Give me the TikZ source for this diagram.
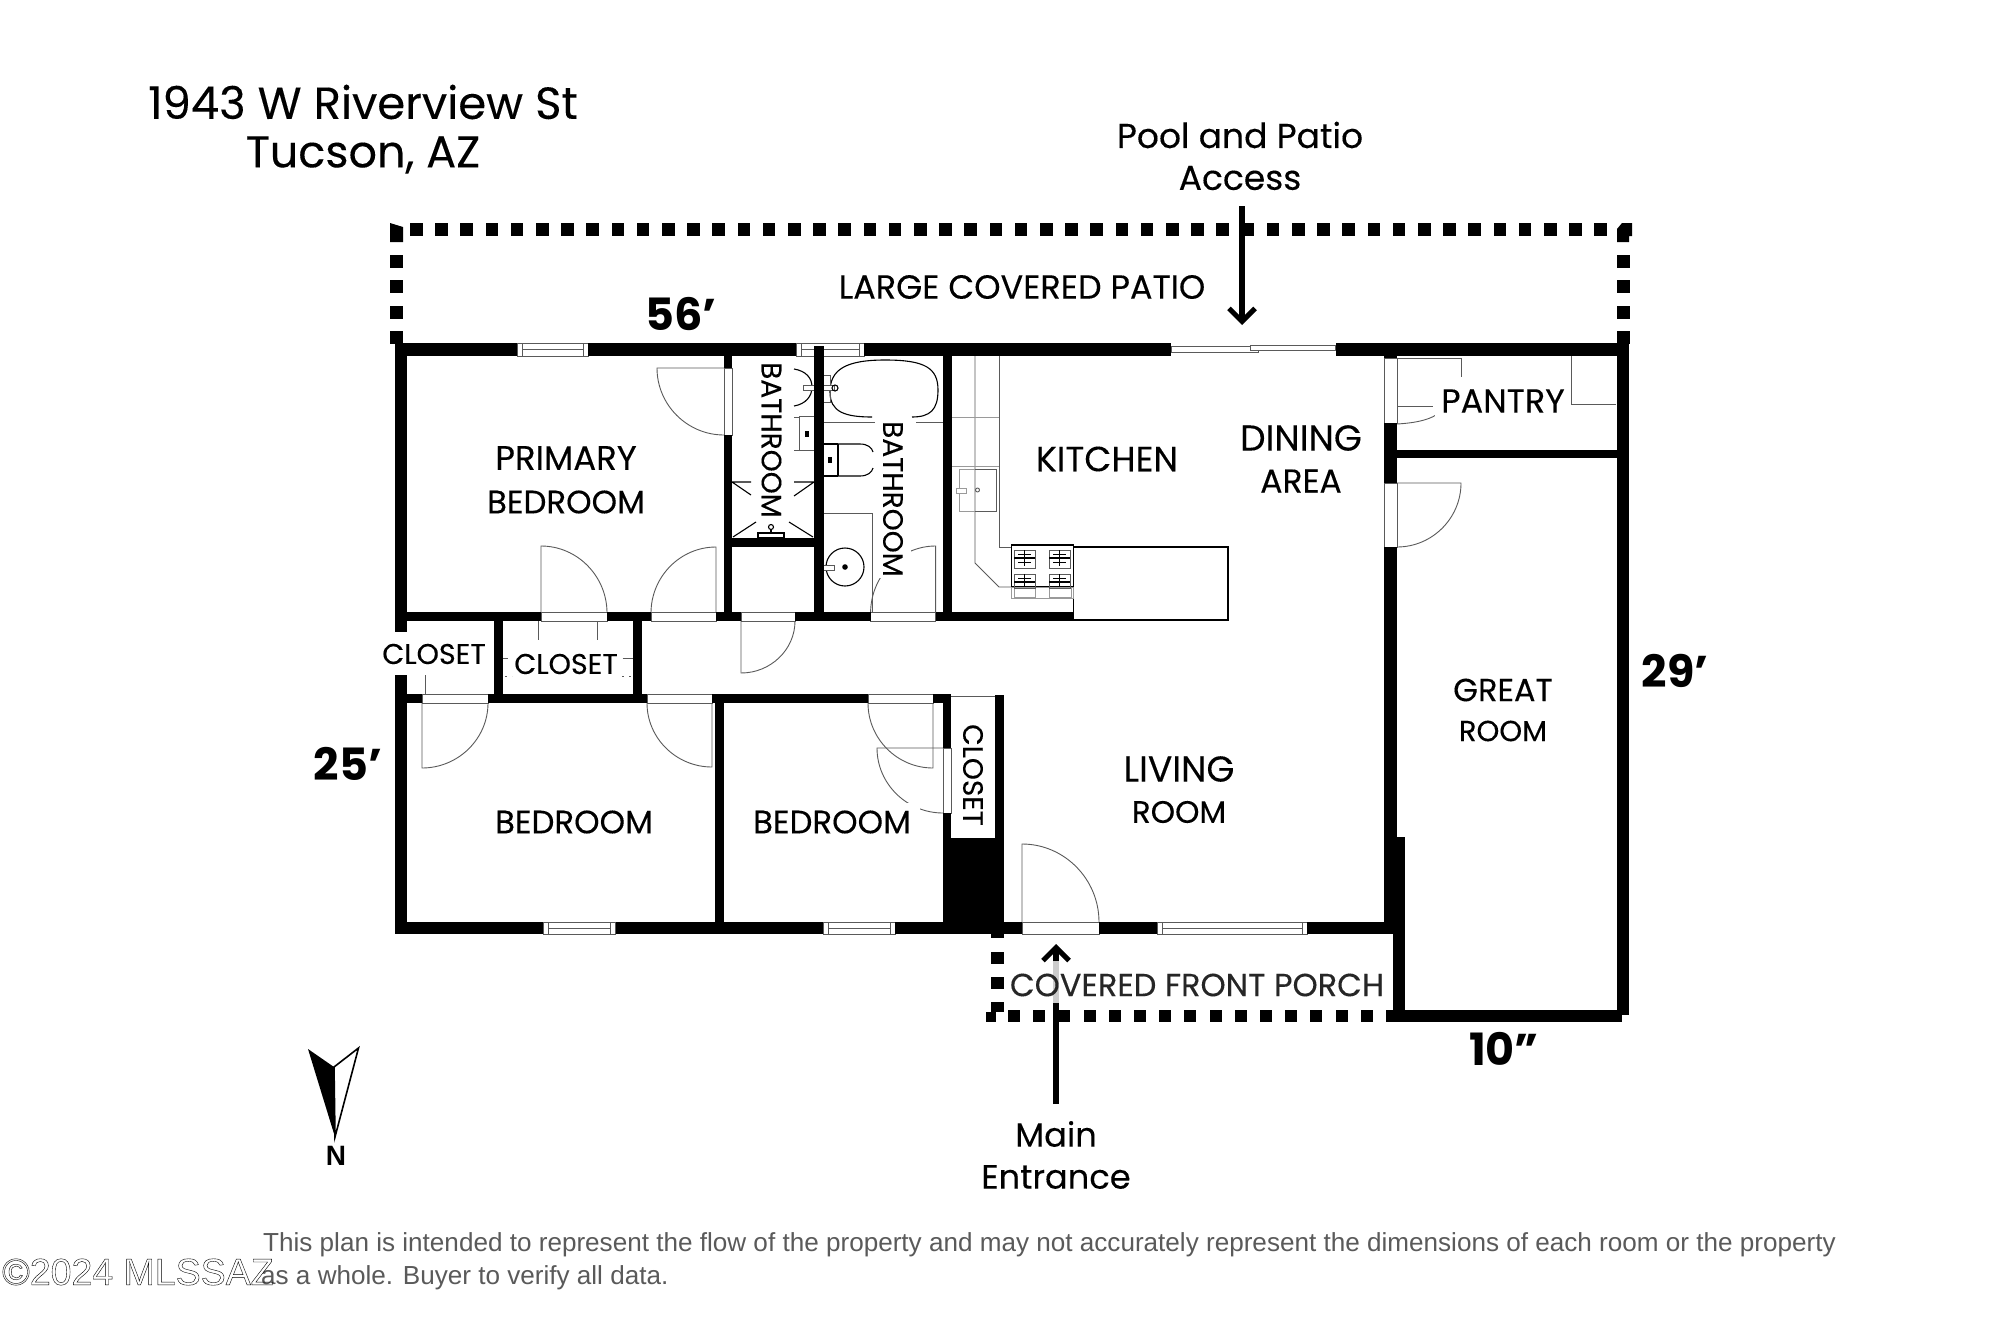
\documentclass[tikz,border=0pt]{standalone}
\usepackage{fontspec}
\setmainfont{Poppins}[FakeBold=0.2,BoldFeatures={FakeBold=0}]
\newfontfamily\arialf{Liberation Sans}
\usetikzlibrary{arrows.meta}
\newcommand\fz[1]{\fontsize{#1}{#1}\selectfont}
\definecolor{thinc}{HTML}{5A5A5A}
\definecolor{palec}{HTML}{9A9A9A}
\tikzset{
  wallfill/.style={fill=black},
  thinl/.style={draw=thinc,line width=0.9pt},
  darkl/.style={draw=black,line width=1.1pt},
  palel/.style={draw=palec,line width=0.9pt},
  lab/.style={text=black,fill=white,inner sep=1pt,font=\fz{30}},
  labrot/.style={text=black,fill=white,rotate=-90,inner xsep=1pt,inner ysep=8pt,font=\fz{28}},
  plain/.style={text=black,inner sep=0pt,font=\fz{30}},
  dimtext/.style={text=black,inner sep=0pt,font=\fz{44.5}\bfseries},
  arrowl/.style={draw=black,line width=5.5pt},
  arrowh/.style={draw=black,line width=5.5pt,-{Straight Barb[length=13pt,width=26pt,line width=5pt]}},
}
\newcommand\wl[4]{\fill[wallfill] (#1,#2) rectangle (#3,#4);}
\newcommand\gap[4]{\draw[thinl,fill=white] (#1,#2) rectangle (#3,#4);}
\newcommand\winh[4]{\draw[thinl,fill=white] (#1,#2) rectangle (#3,#4);
  \draw[thinl] ({#1+5},#2) -- ({#1+5},#4) ({#3-5},#2) -- ({#3-5},#4) ({#1+5},{(#2+#4)/2}) -- ({#3-5},{(#2+#4)/2});}
\newcommand\door[6]{\draw[thinl] (#1,#2) -- (#3,#4) .. controls ({#3+.55*(#5-#1)},{#4+.55*(#6-#2)}) and ({#5+.55*(#3-#1)},{#6+.55*(#4-#2)}) .. (#5,#6);}
\begin{document}
\begin{tikzpicture}[x=1pt,y=-1pt]
\useasboundingbox (0,0) rectangle (2000,1333);
\fill[white] (0,0) rectangle (2000,1333);
% patio dots
\foreach \i in {0,...,47} \fill[black] ({410+25.2*\i},223) rectangle ({422.5+25.2*\i},236);
\foreach \yy in {255,280,306,331} {
  \fill[black] (390,\yy) rectangle (403,{\yy+12.5});
  \fill[black] (1616.5,\yy) rectangle (1629.5,{\yy+12.5});
}
\fill[black] (390,223) -- (403,227) -- (403,242) -- (390,242) -- cycle;
\fill[black] (1632,223) -- (1632,236) -- (1629,236) -- (1629,242) -- (1617,242) -- (1617,229) -- (1622,223) -- cycle;
% porch dots
\foreach \i in {0,...,14} \fill[black] ({1008+25.2*\i},1010) rectangle ({1020+25.2*\i},1022);
\fill[black] (991,934) rectangle (1004,938);
\fill[black] (991,952) rectangle (1004,964);
\fill[black] (991,977) rectangle (1004,989);
\fill[black] (991,1002) rectangle (1004,1012);
\fill[black] (986,1012) rectangle (996,1022);
% kitchen lines
\draw[thinl] (975,356) -- (975,563) -- (999,587) -- (1073.5,587);
\draw[thinl] (999,356) -- (999,547) -- (1011,547);
\draw[darkl] (1073.5,547) rectangle (1228,620);
\draw[palel] (952,417) -- (999,417) (952,466) -- (999,466);
\draw[palel] (959,469) rectangle (996,511);
\draw[thinl] (975,469) -- (996,469) -- (996,511) -- (975,511);
\draw[palel,fill=white] (956,488) rectangle (966,493);
\draw[thinl] (977.5,490) circle[radius=2];
% stove
\draw[darkl] (1011.5,545) rectangle (1073.5,587);
\draw[palel] (1011.5,587) rectangle (1073.5,598) (1014,588) rectangle (1035,597) (1049,588) rectangle (1071,597);
\foreach \bx/\by in {1014/550,1049/550,1014/574,1049/574} {
  \draw[thinl] (\bx,\by) rectangle ({\bx+21},{\by+18-(\by-550)/6});
  \draw[black,line width=1.8pt] ({\bx+10.5},\by) -- ({\bx+10.5},{\by+16-(\by-550)/6}) (\bx,{\by+8}) -- ({\bx+21},{\by+8});
  \draw[black,line width=1pt] ({\bx+4},{\by+4}) -- ({\bx+17},{\by+4}) ({\bx+4},{\by+12}) -- ({\bx+17},{\by+12});
}
% bathroom fixtures
\draw[darkl] (872,417) .. controls (845,417) and (830,412) .. (830,392) .. controls (830,370) and (845,360) .. (885,360) .. controls (925,360) and (938,368) .. (938,390) .. controls (938,410) and (930,417) .. (912,417);
\draw[thinl] (823,422) -- (875,422) (916,422) -- (943,422);
\draw[thinl] (823,375) rectangle (830,402);
\draw[thinl,fill=white] (823,385) rectangle (834,390);
\draw[darkl] (835,388) circle[radius=3];
\draw[darkl] (838,444) -- (823,444) (823,476) -- (838,476) (838,444) -- (838,476);
\draw[darkl] (838,444) -- (860,444) .. controls (868,444) and (872,448) .. (873,452);
\draw[darkl] (838,476) -- (860,476) .. controls (868,476) and (872,472) .. (873,468);
\draw[darkl] (829,458) rectangle (831,462);
\draw[thinl] (823,513) -- (872,513) -- (872,612);
\draw[darkl] (845,567) circle[radius=19];
\draw[thinl,fill=white] (823,565) rectangle (834,570);
\fill[black] (845,567) circle[radius=2.8];
\draw[darkl] (794,369) .. controls (806,371) and (812,378) .. (812,387) .. controls (812,396) and (806,404) .. (794,406);
\draw[thinl,fill=white] (803,385) rectangle (814,390);
\draw[thinl] (799,416) rectangle (814,450) (794,417) -- (799,417) (794,450) -- (799,450);
\draw[darkl] (806,432) rectangle (808,436);
\draw[darkl] (732,482) -- (751,482) (732,482) -- (751,495) (794,482) -- (814,482) (814,482) -- (794,496);
\draw[darkl] (733,537) -- (756,522) (813,537) -- (789,522);
\draw[darkl] (758,533) rectangle (784,538) (771,533) -- (771,530);
\draw[darkl] (771,527) circle[radius=2.5];
% doors
\door{724}{368}{657}{368}{724}{435}
\door{541}{613}{541}{546}{607}{613}
\door{716}{613}{716}{547}{651}{613}
\door{741}{621}{741}{673}{795}{621}
\door{935.6}{613}{935.6}{546}{870.6}{613}
\door{422}{703}{422}{768}{488}{703}
\door{712}{703}{712}{767}{647}{703}
\door{933}{703}{933}{768}{868}{703}
\door{943}{748}{877}{748}{943}{813}
\door{1022}{922}{1022}{844}{1099}{922}
\door{1397}{483}{1461}{483}{1397}{547}
\draw[thinl] (538,621) -- (538,640) (597,621) -- (597,640);
\draw[thinl] (425.5,675) -- (425.5,694);
\draw[thinl] (503,658) -- (508,658) (622.6,658) -- (633,658);
\draw[thinl,dash pattern=on 2pt off 5pt] (505,676) -- (512,676) (622,676) -- (633,676);
\draw[thinl] (1397,358) -- (1461,358) -- (1461,377);
\draw[thinl] (1397,406) -- (1433,406);
\draw[thinl] (1397,424) .. controls (1415,423) and (1428,420) .. (1436,415);
\draw[thinl] (1571,356) -- (1571,404) -- (1616,404);
\draw[thinl] (951,696) -- (995,696);
% openings
\gap{724}{368}{732}{435}
\gap{541}{612}{607}{621}
\gap{651}{612}{716}{621}
\gap{741}{612}{795}{621}
\gap{870.6}{612}{935.6}{621}
\gap{422}{694}{488}{703}
\gap{647}{694}{712}{703}
\gap{868}{694}{933}{703}
\gap{943}{748}{951}{813}
\gap{1022}{922}{1099}{934}
\gap{1384}{358}{1397}{423}
\gap{1384}{483}{1397}{547}
% windows
\winh{517}{343}{588}{356}
\winh{796}{343}{864}{356}
\winh{543}{922}{615.5}{934}
\winh{823}{922}{895}{934}
\winh{1157}{922}{1307}{934}
% sliding door
\draw[thinl,fill=white] (1171,346) rectangle (1258,352);
\draw[thinl,fill=white] (1250,345) rectangle (1335,350);
% walls
\wl{395}{343}{517}{356}
\wl{588}{343}{796}{356}
\wl{864}{343}{1171}{356}
\wl{1336}{343}{1628.5}{356}
\wl{395}{343}{407}{632}
\wl{395}{675}{407}{934}
\wl{814}{346}{823.5}{621}
\wl{724}{356}{732}{368}
\wl{724}{435}{732}{621}
\wl{943}{356}{952}{620}
\wl{732}{538}{814}{547}
\wl{395}{612}{541}{621}
\wl{607}{612}{651}{621}
\wl{716}{612}{741}{621}
\wl{795}{612}{870.6}{621}
\wl{935.6}{612}{1073.5}{620.5}
\wl{494}{621}{503}{694}
\wl{633}{621}{642}{694}
\wl{395}{694}{422}{703}
\wl{488}{694}{647}{703}
\wl{712}{694}{868}{703}
\wl{933}{694}{951}{703}
\wl{943}{703}{951}{748}
\wl{943}{813}{951}{838}
\fill[wallfill] (943,838) rectangle (1004,934);
\wl{995}{695}{1004}{838}
\wl{715}{703}{724}{922}
\wl{395}{922}{543}{934}
\wl{615.5}{922}{823}{934}
\wl{895}{922}{1022}{934}
\wl{1099}{922}{1157}{934}
\wl{1307}{922}{1396}{934}
\wl{1384}{423}{1397}{483}
\wl{1384}{547}{1397}{837}
\wl{1384}{356}{1397}{358}
\wl{1384}{837}{1404.5}{934}
\wl{1393}{934}{1404.5}{1022}
\wl{1386}{1010}{1622}{1022}
\wl{1617}{343}{1628.5}{1015}
\wl{1397}{450}{1617}{458}
% labels
\node[plain,font=\fz{45}] (title1) at (363,102) {1943 W Riverview St};
\node[plain,font=\fz{44.5}] (title2) at (363,155) {Tucson, AZ};
\node[plain,font=\fz{34.5}] (pool1) at (1240,135) {Pool and Patio};
\node[plain,font=\fz{34.5}] (pool2) at (1240,178) {Access};
\node[plain,font=\fz{33.5}] (patio) at (1022,287) {LARGE COVERED PATIO};
\node[lab,font=\fz{34}] (prim1) at (566,458) {PRIMARY};
\node[lab,font=\fz{32.4}] (prim2) at (566,502) {BEDROOM};
\node[labrot] (bath1) at (771.5,440) {BATHROOM};
\node[labrot] (bath2) at (893,499) {BATHROOM};
\node[lab,font=\fz{28.5}] (clos1) at (434,654) {CLOSET};
\node[lab,font=\fz{28.5}] (clos2) at (566,664) {CLOSET};
\node[labrot,font=\fz{28},fill=none] (clos3) at (973,775) {CLOSET};
\node[lab,font=\fz{32.4},inner xsep=9pt,inner ysep=7pt] (bed1) at (574,822) {BEDROOM};
\node[lab,font=\fz{32.4},inner xsep=9pt,inner ysep=7pt] (bed2) at (832,822) {BEDROOM};
\node[lab,font=\fz{35}] (kit) at (1107,459) {KITCHEN};
\node[lab,font=\fz{36}] (din1) at (1301,438) {DINING};
\node[lab,font=\fz{33}] (din2) at (1301,481) {AREA};
\node[lab,font=\fz{33.5},inner xsep=6pt,inner ysep=8pt] (pan) at (1503,401) {PANTRY};
\node[lab,font=\fz{32}] (great1) at (1503,690) {GREAT};
\node[lab,font=\fz{29}] (great2) at (1503,731) {ROOM};
\node[lab,font=\fz{36}] (liv1) at (1179,769) {LIVING};
\node[lab,font=\fz{31}] (liv2) at (1179,812) {ROOM};
\node[plain,font=\fz{33.7}] (main1) at (1056,1134) {Main};
\node[plain,font=\fz{33.7}] (main2) at (1056,1177) {Entrance};
\node[dimtext] (d56) at (681,314) {56'};
\node[dimtext] (d25) at (348,764) {25'};
\node[dimtext] (d29) at (1675,671) {29'};
\node[dimtext] (d10) at (1504,1049) {10"};
% arrows
\coordinate (poolstart) at (1242,206);
\coordinate (pooltip) at (1242,325);
\draw[arrowh] (poolstart) -- (pooltip);
\coordinate (mainstart) at (1056,1104);
\coordinate (mainbreak) at (1056,1003);
\coordinate (mainneck) at (1056,961);
\coordinate (maintip) at (1056,944);
\draw[arrowl] (mainstart) -- (mainbreak);
\draw[line width=5.5pt,draw=black!20] (mainbreak) -- (mainneck);
\draw[arrowh] (mainneck) -- (maintip);
\node[plain,font=\fz{32},text=black!85] (porch) at (1197,985) {COVERED FRONT PORCH};
% compass
\fill[black] (308,1049) -- (334,1067) -- (335,1137) -- cycle;
\draw[black,line width=1.6pt,line join=miter] (334,1067) -- (358.5,1048) -- (335,1137) -- cycle;
\node[plain,font=\arialf\bfseries\fz{28}] (north) at (336,1156) {N};
% footer
\node[inner sep=0pt,anchor=west,text=thinc,font=\arialf\fz{26.1}] (foot1) at (263,1245) {This plan is intended to represent the flow of the property and may not accurately represent the dimensions of each room or the property};
\node[inner sep=0pt,anchor=west,text=thinc,font=\arialf\fz{26.1}] (foot2) at (261,1278) {as a whole. Buyer to verify all data.};
\node[inner sep=0pt,anchor=west,text=black,font=\arialf\fz{37.5}] (wm) at (2,1272) {\special{pdf:code 1 Tr 0.4 w}©2024 MLSSAZ\special{pdf:code 0 Tr}};
\end{tikzpicture}
\end{document}
